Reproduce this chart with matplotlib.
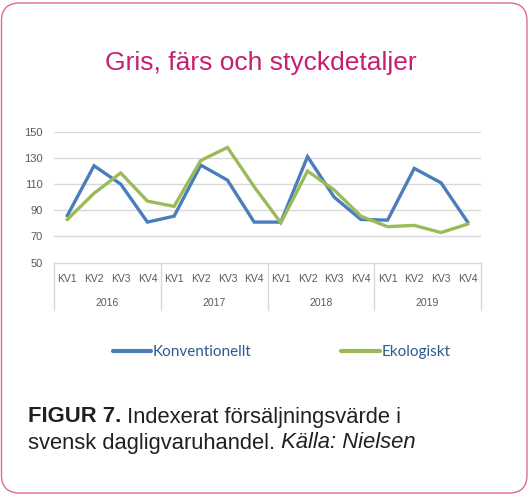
import matplotlib
matplotlib.use("Agg")
import matplotlib.pyplot as plt
from matplotlib.patches import FancyBboxPatch
from matplotlib.lines import Line2D
from matplotlib.transforms import IdentityTransform, blended_transform_factory

# ---- data ----
years = ["2016", "2017", "2018", "2019"]
quarters = ["KV1", "KV2", "KV3", "KV4"]
konventionellt = [86, 124, 110, 81, 85.5, 124.5, 113, 81, 81, 131, 100, 83, 82.5, 122, 111, 81]
ekologiskt = [83, 103, 118.5, 97, 93, 128, 138, 108, 80.5, 120, 105.5, 85.5, 77.5, 78.5, 73, 79.5]
yticks = [50, 70, 90, 110, 130, 150]

W, H = 529, 495
fig = plt.figure(figsize=(W / 100, H / 100), dpi=100)

def fx(px):
    return px / W

def fy(py):
    return 1 - py / H

# frame
frame = FancyBboxPatch((1.5, H - 493), 525.5, 490, boxstyle="round,pad=0,rounding_size=18",
                       transform=IdentityTransform(), fill=False, edgecolor="#E06A9C", linewidth=1.0)
fig.patches.append(frame)

# title
fig.text(fx(261), fy(63), "Gris, färs och styckdetaljer", ha="center", va="center",
         fontsize=19, color="#C5206F", family=["Liberation Sans", "DejaVu Sans"])

# axes
left, right, top, bottom = 54, 481, 131.7, 262.7
ax = fig.add_axes([fx(left), fy(bottom), fx(right - left), (bottom - top) / H])
x = list(range(len(konventionellt)))
blue = "#4A7EBB"
green = "#9BBB59"
ax.plot(x, konventionellt, color=blue, lw=2.4, solid_joinstyle="miter", zorder=3)
ax.plot(x, ekologiskt, color=green, lw=2.4, solid_joinstyle="miter", zorder=3)
ax.set_xlim(-0.5, len(x) - 0.5)
ax.set_ylim(50, 150)
ax.set_yticks(yticks)
ax.set_yticklabels([str(v) for v in yticks], fontsize=8, color="#595959",
                   family=["Liberation Sans Narrow", "Liberation Sans", "DejaVu Sans"])
ax.tick_params(axis="y", length=0, pad=8)
ax.set_xticks([])
for v in yticks[1:]:
    ax.axhline(v, color="#D9D9D9", lw=1.0, zorder=1)
for s in ["top", "right", "left"]:
    ax.spines[s].set_visible(False)
ax.spines["bottom"].set_color("#D9D9D9")
ax.spines["bottom"].set_linewidth(1.0)

ah = bottom - top
tr = blended_transform_factory(ax.transData, ax.transAxes)
font_kv = dict(fontsize=7.5, color="#595959",
               family=["Liberation Sans Narrow", "Liberation Sans", "DejaVu Sans"])
for i in x:
    ax.text(i, -(279 - bottom) / ah, quarters[i % 4], transform=tr, ha="center", va="center", **font_kv)
for j, yr in enumerate(years):
    ax.text(j * 4 + 1.5, -(303 - bottom) / ah, yr, transform=tr, ha="center", va="center", **font_kv)
for j in range(len(years) + 1):
    ax.add_line(Line2D([j * 4 - 0.5, j * 4 - 0.5], [0, -(310 - bottom) / ah], transform=tr,
                       color="#D9D9D9", lw=1.0, clip_on=False))

# legend
lfont = dict(fontsize=11, color="#2B5A8C", family=["Lato", "DejaVu Sans"])
fig.add_artist(Line2D([fx(113), fx(151)], [fy(351), fy(351)], color=blue, lw=3, solid_capstyle="round"))
fig.text(fx(153), fy(352), "Konventionellt", ha="left", va="center", **lfont)
fig.add_artist(Line2D([fx(341), fx(380)], [fy(351), fy(351)], color=green, lw=3, solid_capstyle="round"))
fig.text(fx(382), fy(352), "Ekologiskt", ha="left", va="center", **lfont)

# caption
cfam = ["Liberation Sans", "DejaVu Sans"]
ccol = "#231F20"
cs = 15.8
t1 = fig.text(fx(28), fy(422.5), "FIGUR 7.", ha="left", va="baseline", fontsize=cs,
              fontweight="bold", color=ccol, family=cfam)
plt.annotate(" Indexerat försäljningsvärde i", xy=(1, 0), xycoords=t1, ha="left", va="bottom",
             fontsize=cs, color=ccol, family=cfam)
t2 = fig.text(fx(28), fy(448.5), "svensk dagligvaruhandel.", ha="left", va="baseline", fontsize=cs,
              color=ccol, family=cfam)
plt.annotate(" Källa: Nielsen", xy=(1, 0), xycoords=t2, ha="left", va="bottom",
             fontsize=cs, color=ccol, family=cfam, style="italic")

fig.savefig("out.png", dpi=100)
